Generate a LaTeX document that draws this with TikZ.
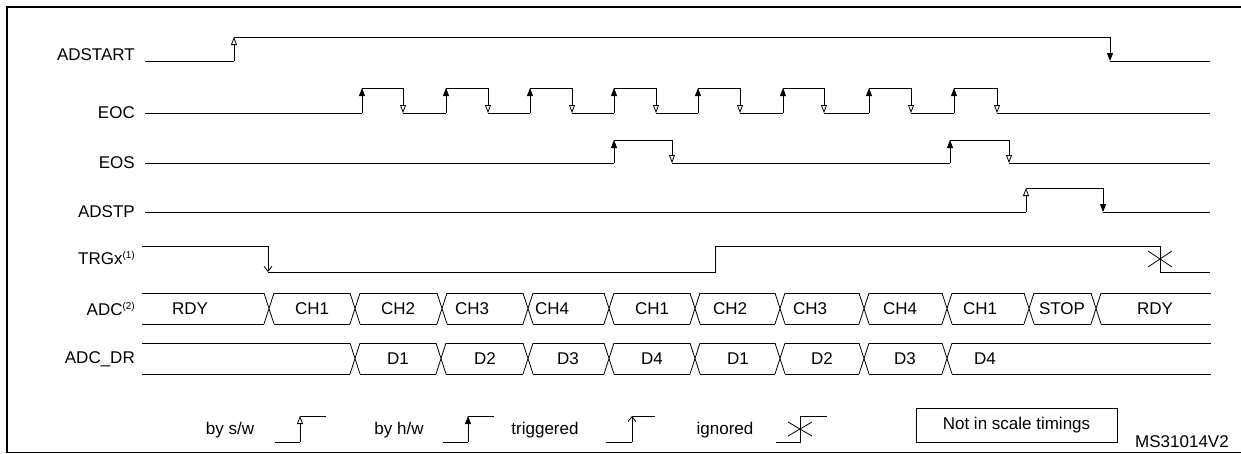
\documentclass[tikz,border=0pt]{standalone}
\usepackage{fontspec}
\setmainfont{Liberation Sans}
\usetikzlibrary{arrows.meta}

\newcommand{\sigfont}{\fontsize{17}{20}\selectfont}
\newcommand{\sigsup}[1]{\raisebox{6pt}{\fontsize{10}{10}\selectfont#1}}
\tikzset{
  wave/.style={line width=0.8pt},
  hwtip/.style={-{Triangle[length=8pt,width=6pt]}},
  swtip/.style={-{Triangle[open,length=8pt,width=6pt]}},
  trgtip/.style={-{Straight Barb[length=5pt,width=8pt]}},
  siglabel/.style={anchor=east,font=\sigfont,inner sep=0pt},
  bustext/.style={font=\sigfont,inner sep=0pt}
}

\begin{document}
\begin{tikzpicture}[x=1pt,y=-1pt]
        \useasboundingbox (0,0) rectangle (1241,453);
        % frame
        \draw[line width=2pt] (7,453)--(7,7)--(1241,7);
        \draw[line width=0.6pt] (7,452)--(1241,452);
        % signal names
        \node[siglabel] (lstart) at (135,55) {ADSTART};
        \node[siglabel] (leoc) at (135,113) {EOC};
        \node[siglabel] (leos) at (135,163) {EOS};
        \node[siglabel] (lstp) at (135,212) {ADSTP};
        \node[siglabel] (ltrg) at (135,258) {TRGx\sigsup{(1)}};
        \node[siglabel] (ladc) at (135,309) {ADC\sigsup{(2)}};
        \node[siglabel] (ldr) at (135,359) {ADC\_DR};
        % ADSTART
        \draw[wave] (145,61)--(234,61);
        \draw[wave,swtip] (234,61)--(234,37);
        \draw[wave] (234,37)--(1110,37);
        \draw[wave,hwtip] (1110,37)--(1110,61);
        \draw[wave] (1110,61)--(1210,61);
        % EOC
        \draw[wave] (145,113)--(362,113);
        \foreach \r/\f/\n in {362/403/446,446/488/530,530/572/614,614/656/698,698/740/783,783/824/869,869/911/954,954/997/1210}{
          \draw[wave,hwtip] (\r,113)--(\r,88);
          \draw[wave] (\r,88)--(\f,88);
          \draw[wave,swtip] (\f,88)--(\f,113);
          \draw[wave] (\f,113)--(\n,113);
        }
        % EOS
        \draw[wave] (145,163)--(614,163);
        \foreach \r/\f/\n in {614/672/950,950/1009/1210}{
          \draw[wave,hwtip] (\r,163)--(\r,140);
          \draw[wave] (\r,140)--(\f,140);
          \draw[wave,swtip] (\f,140)--(\f,163);
          \draw[wave] (\f,163)--(\n,163);
        }
        % ADSTP
        \draw[wave] (145,212)--(1026,212);
        \draw[wave,swtip] (1026,212)--(1026,188);
        \draw[wave] (1026,188)--(1103,188);
        \draw[wave,hwtip] (1103,188)--(1103,212);
        \draw[wave] (1103,212)--(1210,212);
        % TRGx
        \draw[wave] (142,246)--(268,246);
        \draw[wave,trgtip] (268,246)--(268,272);
        \draw[wave] (268,272)--(715,272)--(715,246)--(1160,246)--(1160,272)--(1210,272);
        \draw[wave] (1148,251)--(1172,267) (1148,267)--(1172,251);
        % ADC bus
        \foreach \x in {269,355,442,528,609,695,780,864,947,1029,1096}{
          \draw[wave] (\x-5,293)--(\x+5,324) (\x-5,324)--(\x+5,293);
        }
        \foreach \a/\b/\t/\lx in {137/269/RDY/190,269/355/CH1/312,355/442/CH2/398,442/528/CH3/472,528/609/CH4/552,609/695/CH1/652,695/780/CH2/730,780/864/CH3/810,864/947/CH4/900,947/1029/CH1/980,1029/1096/STOP/1062,1096/1216/RDY/1155}{
          \draw[wave] (\a+5,293)--(\b-5,293) (\a+5,324)--(\b-5,324);
          \node[bustext] (adc\a) at (\lx,309) {\t};
        }
        % ADC_DR bus
        \foreach \x in {355,441,528,609,695,780,864,947}{
          \draw[wave] (\x-5,343)--(\x+5,374) (\x-5,374)--(\x+5,343);
        }
        \foreach \a/\b/\t/\lx in {137/355//250,355/441/D1/398,441/528/D2/485,528/609/D3/568,609/695/D4/652,695/780/D1/738,780/864/D2/822,864/947/D3/905,947/1216/D4/985}{
          \draw[wave] (\a+5,343)--(\b-5,343) (\a+5,374)--(\b-5,374);
          \node[bustext] (dr\a) at (\lx,359) {\t};
        }
        % legend
        \node[bustext] (kswt) at (230,430) {by s/w};
        \draw[wave] (275,442)--(300,442);
        \draw[wave,swtip] (300,442)--(300,416);
        \draw[wave] (300,416)--(326,416);
        \node[bustext] (khwt) at (399,430) {by h/w};
        \draw[wave] (443,442)--(468,442);
        \draw[wave,hwtip] (468,442)--(468,416);
        \draw[wave] (468,416)--(494,416);
        \node[bustext] (ktrgt) at (545,430) {triggered};
        \draw[wave] (606,442)--(632,442);
        \draw[wave,trgtip] (632,442)--(632,416);
        \draw[wave] (632,416)--(655,416);
        \node[bustext] (kignt) at (725,430) {ignored};
        \draw[wave] (776,442)--(800,442)--(800,416)--(827,416);
        \draw[wave] (788,422)--(812,436) (788,436)--(812,422);
        \node[draw,wave,font=\sigfont,minimum width=201pt,minimum height=34pt] (scale) at (1016.5,425) {Not in scale timings};
        \node[bustext] (ref) at (1182,442) {MS31014V2};
\end{tikzpicture}
\end{document}
